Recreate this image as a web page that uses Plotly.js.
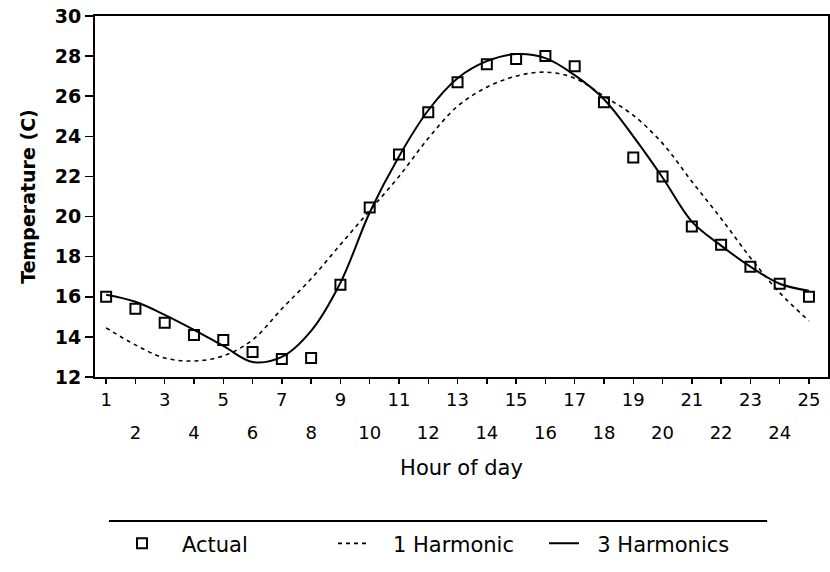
<!DOCTYPE html>
<html>
<head>
<meta charset="utf-8">
<script src="https://cdn.plot.ly/plotly-3.0.1.min.js"></script>
<style>html,body{margin:0;padding:0;background:#fff;}#chart{width:830px;height:572px;}</style>
</head>
<body>
<div id="chart"></div>
<script>
// Data
const hours = [1,2,3,4,5,6,7,8,9,10,11,12,13,14,15,16,17,18,19,20,21,22,23,24,25];
const actual = [16.0,15.4,14.7,14.1,13.85,13.25,12.9,12.95,16.6,20.45,23.1,25.2,26.7,27.6,27.85,28.0,27.5,25.7,22.95,22.0,19.5,18.6,17.5,16.65,16.0];
const harmonic1 = [14.45,13.6,12.95,12.8,13.05,13.85,15.4,16.9,18.6,20.3,22.0,23.9,25.5,26.45,27.0,27.2,26.9,26.0,25.05,23.65,21.75,19.9,17.95,16.2,14.8];
const harmonic3 = [16.1,15.75,15.1,14.35,13.55,12.75,13.0,14.3,16.7,20.2,23.0,25.3,26.9,27.75,28.1,27.9,27.05,25.85,24.0,21.95,19.75,18.55,17.5,16.65,16.3];
const oddTicks = [1,3,5,7,9,11,13,15,17,19,21,23,25];
const evenTicks = [2,4,6,8,10,12,14,16,18,20,22,24];
const yTicks = [12,14,16,18,20,22,24,26,28,30];

const allTickText = hours.map(h => (oddTicks.includes(h) ? String(h) : ''));

const traces = [
  {x: hours, y: actual, name: '&nbsp;&nbsp;&nbsp;Actual', type: 'scatter', mode: 'markers',
   marker: {symbol: 'square-open', size: 10, color: '#000', line: {width: 2, color: '#000'}}},
  {x: hours, y: harmonic1, name: '&nbsp;&nbsp;&nbsp;1 Harmonic', type: 'scatter', mode: 'lines',
   line: {color: '#000', width: 1.6, dash: '4px,4px', shape: 'spline'}},
  {x: hours, y: harmonic3, name: '&nbsp;&nbsp;3 Harmonics', type: 'scatter', mode: 'lines',
   line: {color: '#000', width: 2, shape: 'spline'}},
  {x: hours, y: actual, xaxis: 'x2', type: 'scatter', mode: 'markers', showlegend: false,
   hoverinfo: 'skip', marker: {opacity: 0}}
];

const font = 'DejaVu Sans, Arial, sans-serif';
const layout = {
  width: 830, height: 572,
  margin: {l: 95, r: 2, t: 16, b: 195},
  paper_bgcolor: '#fff', plot_bgcolor: '#fff',
  showlegend: true,
  font: {family: font, color: '#000'},
  xaxis: {
    range: [0.62, 25.65], tickmode: 'array', tickvals: hours, ticktext: allTickText,
    ticks: 'outside', ticklen: 5, tickwidth: 1.5, tickcolor: '#000',
    showline: true, linecolor: '#000', linewidth: 2, mirror: true,
    showgrid: false, zeroline: false,
    tickfont: {family: font, size: 18, color: '#000'},
    title: {text: 'Hour of day', font: {family: font, size: 21, color: '#000'}, standoff: 52}
  },
  xaxis2: {
    overlaying: 'x', matches: 'x', side: 'bottom', anchor: 'y',
    tickmode: 'array', tickvals: evenTicks, ticks: '',
    showline: false, showgrid: false, zeroline: false,
    ticklabelstandoff: 43,
    tickfont: {family: font, size: 18, color: '#000'}
  },
  yaxis: {
    range: [12, 30], tickmode: 'array', tickvals: yTicks,
    ticks: 'outside', ticklen: 8, tickwidth: 1.5, tickcolor: '#000',
    showline: true, linecolor: '#000', linewidth: 2, mirror: true,
    showgrid: false, zeroline: false,
    tickfont: {family: font, size: 19, color: '#000', weight: 'bold'},
    title: {text: 'Temperature (C)', font: {family: font, size: 19, color: '#000', weight: 'bold'}, standoff: 14}
  },
  legend: {
    orientation: 'h', x: 0.0368, xanchor: 'left', y: -0.405, yanchor: 'top',
    font: {family: font, size: 21, color: '#000'},
    entrywidth: 166, entrywidthmode: 'pixels',
    bgcolor: 'rgba(0,0,0,0)', borderwidth: 0
  },
  shapes: [
    {type: 'line', xref: 'paper', yref: 'paper', x0: 0.019, x1: 0.917, y0: -0.399, y1: -0.399,
     line: {color: '#000', width: 2}}
  ]
};

Plotly.newPlot('chart', traces, layout, {displayModeBar: false, staticPlot: true});
</script>
</body>
</html>
